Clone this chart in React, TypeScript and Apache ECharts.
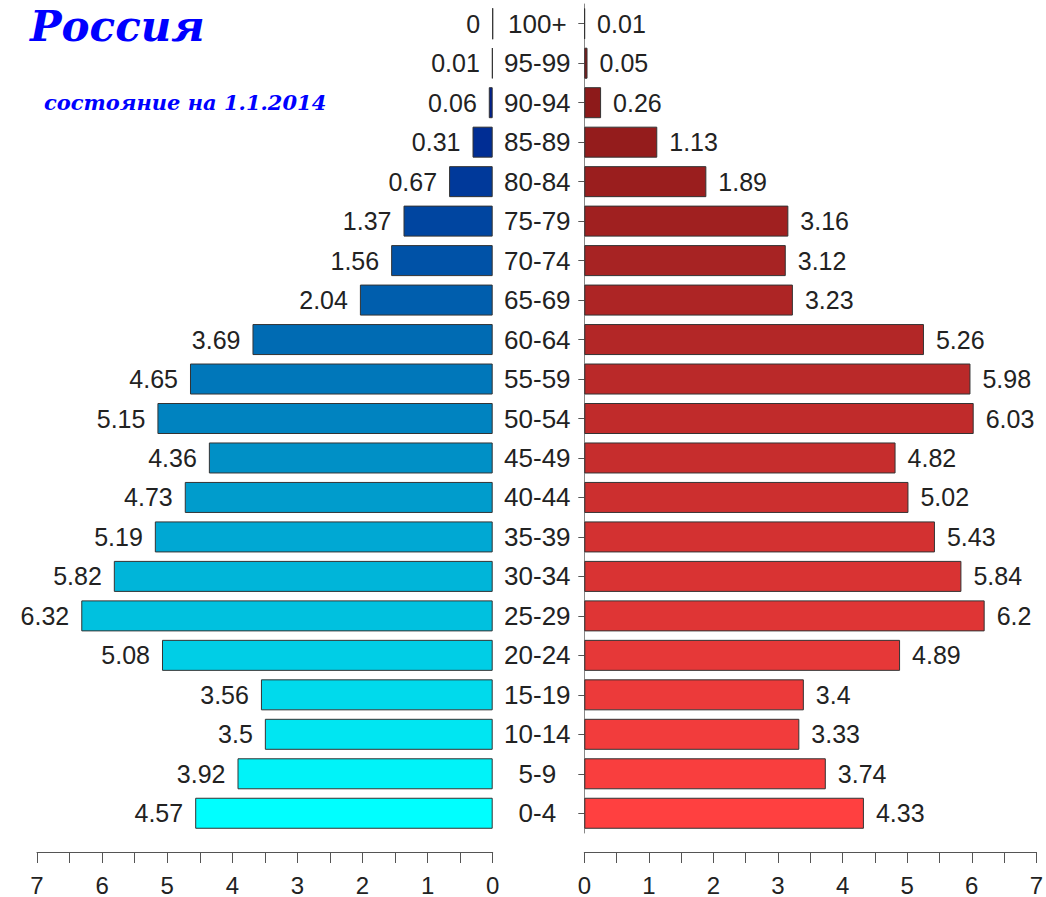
import React, { useEffect, useRef } from "react";
import * as echarts from "echarts";

const ages = ["0-4", "5-9", "10-14", "15-19", "20-24", "25-29", "30-34", "35-39", "40-44", "45-49", "50-54", "55-59", "60-64", "65-69", "70-74", "75-79", "80-84", "85-89", "90-94", "95-99", "100+"];
const male = [4.57, 3.92, 3.5, 3.56, 5.08, 6.32, 5.82, 5.19, 4.73, 4.36, 5.15, 4.65, 3.69, 2.04, 1.56, 1.37, 0.67, 0.31, 0.06, 0.01, 0];
const female = [4.33, 3.74, 3.33, 3.4, 4.89, 6.2, 5.84, 5.43, 5.02, 4.82, 6.03, 5.98, 5.26, 3.23, 3.12, 3.16, 1.89, 1.13, 0.26, 0.05, 0.01];
const xTicks = [0, 1, 2, 3, 4, 5, 6, 7];

const titleText = "Россия";
const subtitleText = "состояние на 1.1.2014";

function mix(a: number[], b: number[], t: number) {
  const c = a.map((v, i) => Math.round(v + (b[i] - v) * t));
  return `rgb(${c[0]},${c[1]},${c[2]})`;
}
const n = ages.length;
const maleColor = (i: number) => mix([0, 255, 255], [0, 20, 135], i / (n - 2));
const femaleColor = (i: number) => mix([255, 64, 64], [135, 24, 24], i / (n - 2));

export default function App() {
  const ref = useRef<HTMLDivElement>(null);
  useEffect(() => {
    if (!ref.current) return;
    const chart = echarts.init(ref.current, null, { renderer: "svg" });
    const font = "Liberation Sans, Arial, sans-serif";
    const xAxisCommon = (gridIndex: number, inverse: boolean) => ({
      type: "value",
      gridIndex,
      min: 0,
      max: 7,
      interval: 0.5,
      inverse,
      position: "bottom",
      offset: 19,
      axisLine: { show: true, onZero: false, lineStyle: { color: "#555", width: 1 } },
      axisTick: { show: true, length: 11, lineStyle: { color: "#555" } },
      splitLine: { show: false },
      axisLabel: {
        margin: 21,
        fontSize: 24,
        color: "#222",
        fontFamily: font,
        formatter: (v: number) => (xTicks.includes(v) ? String(v) : ""),
      },
    });
    chart.setOption({
      animation: false,
      backgroundColor: "#fff",
      title: [
        {
          text: titleText,
          left: 25,
          top: 0,
          textStyle: { fontFamily: "DejaVu Serif", fontStyle: "italic", fontWeight: "bold", fontSize: 42, color: "#0000ff" },
        },
        {
          text: subtitleText,
          left: 39,
          top: 87,
          textStyle: { fontFamily: "DejaVu Serif", fontStyle: "italic", fontWeight: "bold", fontSize: 21, color: "#0000ff" },
        },
      ],
      grid: [
        { left: 37, width: 455.7, top: 4, height: 829, containLabel: false },
        { left: 584.3, width: 452.4, top: 4, height: 829, containLabel: false },
      ],
      xAxis: [xAxisCommon(0, true), xAxisCommon(1, false)],
      yAxis: [
        {
          type: "category",
          gridIndex: 0,
          data: ages,
          axisLine: { show: false },
          axisTick: { show: false },
          axisLabel: { show: false },
        },
        {
          type: "category",
          gridIndex: 1,
          data: ages,
          axisLine: { show: true, lineStyle: { color: "#888", width: 1 } },
          axisTick: { show: true, alignWithLabel: true, length: 6, lineStyle: { color: "#555" } },
          axisLabel: { margin: 47, align: "center", fontSize: 26, color: "#222", fontFamily: font },
        },
      ],
      series: [
        {
          type: "bar",
          xAxisIndex: 0,
          yAxisIndex: 0,
          data: male.map((v, i) => ({ value: v, itemStyle: { color: maleColor(i) } })),
          barWidth: 31,
          itemStyle: { borderColor: "#333", borderWidth: 1 },
          label: { show: true, position: "left", distance: 12, fontSize: 25, color: "#222", fontFamily: font },
        },
        {
          type: "bar",
          xAxisIndex: 1,
          yAxisIndex: 1,
          data: female.map((v, i) => ({ value: v, itemStyle: { color: femaleColor(i) } })),
          barWidth: 31,
          itemStyle: { borderColor: "#333", borderWidth: 1 },
          label: { show: true, position: "right", distance: 12, fontSize: 25, color: "#222", fontFamily: font },
        },
      ],
    });
    return () => chart.dispose();
  }, []);
  return <div ref={ref} style={{ position: "absolute", left: 0, top: 0, width: 1046, height: 897 }} />;
}
